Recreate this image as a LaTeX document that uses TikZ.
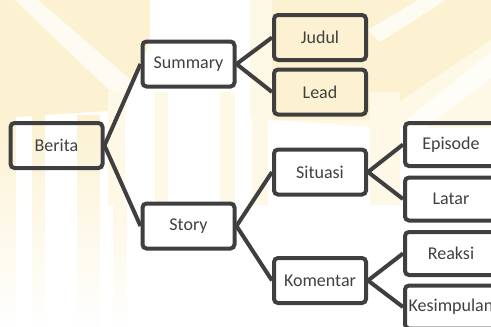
\documentclass[tikz,border=0pt]{standalone}
\usepackage{fontspec}
\setmainfont{Carlito}
\usetikzlibrary{fadings}
\definecolor{edge}{HTML}{3F3F3F}
\definecolor{txt}{HTML}{404040}
\definecolor{wm}{HTML}{FCF2D2}
\definecolor{wml}{HTML}{FEF8E6}
\begin{document}
\begin{tikzpicture}[x=1pt,y=-1pt,
  box/.style={draw=edge, line width=4pt, rounded corners=4pt, minimum width=92pt,
    minimum height=45pt, inner sep=0pt, text=txt, font=\fontsize{18}{20}\selectfont},
  leaf/.style={box, minimum height=43pt},
  link/.style={draw=edge, line width=4pt}]
\useasboundingbox (0,0) rectangle (491,327);
\fill[white] (0,0) rectangle (491,327);
% watermark
\fill[wm] (0,0) -- (150,0) -- (150,40) -- (125,110) -- (0,118) -- cycle;
\fill[white, opacity=.75] (15,0) -- (38,0) -- (140,88) -- (128,108) -- cycle;
\fill[wml] (250,0) -- (491,0) -- (491,128) -- (380,128) -- (250,118) -- cycle;
\fill[wm] (272,0) -- (491,0) -- (491,40) -- (372,120) -- (272,120) -- cycle;
\fill[white, opacity=.75] (418,0) -- (446,0) -- (380,42) -- (368,30) -- cycle;
\fill[white, opacity=.75] (491,52) -- (491,78) -- (425,128) -- (396,128) -- cycle;
\foreach \a/\b in {108/125,155/168,220/235,252/268,370/400}
  \fill[wml] (\a,92) rectangle (\b,205);
\foreach \a/\b in {0/16,32/45,77/100}
  \fill[wm, path fading=south] (\a,115) rectangle (\b,327);
\fill[wml, path fading=south] (113,205) rectangle (127,327);
% nodes
\node[box] (berita) at (56.5,145.5) {Berita};
\node[box] (summary) at (188.5,64) {Summary};
\node[box] (story) at (188.5,226) {Story};
\node[box] (judul) at (320,37.5) {Judul};
\node[box] (lead) at (320,92) {Lead};
\node[box] (situasi) at (320,172) {Situasi};
\node[box] (komentar) at (320,280.5) {Komentar};
\node[leaf] (episode) at (451,144.5) {Episode};
\node[leaf] (latar) at (451,199) {Latar};
\node[leaf] (reaksi) at (451,253.5) {Reaksi};
\node[leaf] (kesimpulan) at (451,307) {Kesimpulan};
% links
\draw[link] (berita.east) -- (summary.west);
\draw[link] (berita.east) -- (story.west);
\draw[link] (summary.east) -- (judul.west);
\draw[link] (summary.east) -- (lead.west);
\draw[link] (story.east) -- (situasi.west);
\draw[link] (story.east) -- (komentar.west);
\draw[link] (situasi.east) -- (episode.west);
\draw[link] (situasi.east) -- (latar.west);
\draw[link] (komentar.east) -- (reaksi.west);
\draw[link] (komentar.east) -- (kesimpulan.west);
\end{tikzpicture}
\end{document}
